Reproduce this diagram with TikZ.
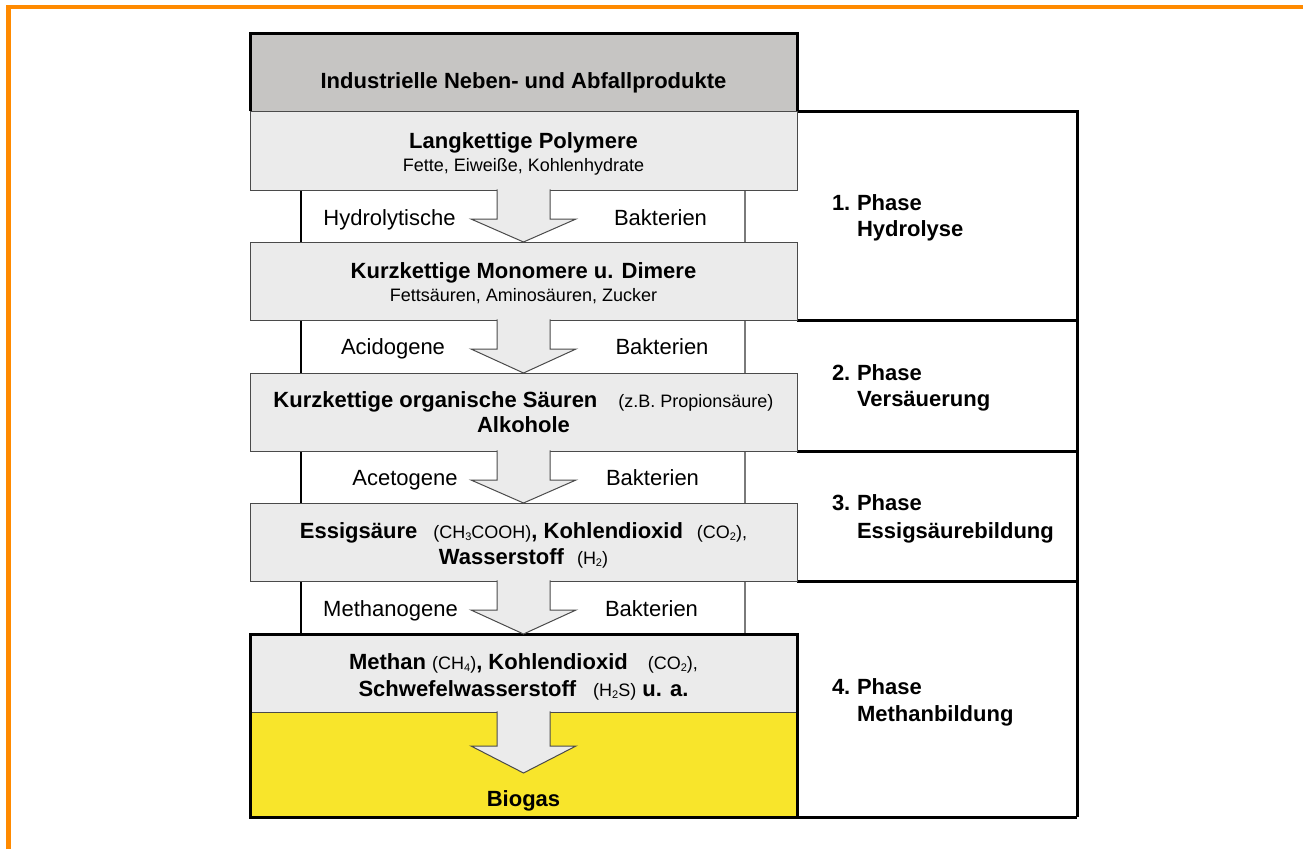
\documentclass[tikz,border=0pt]{standalone}
\usepackage{fontspec}
\setmainfont{Liberation Sans}

\definecolor{frameOrange}{HTML}{FF8A00}
\definecolor{headGray}{HTML}{C6C5C3}
\definecolor{paleGray}{HTML}{EBEBEB}
\definecolor{edgeGray}{HTML}{4A4A4A}
\definecolor{bandGray}{HTML}{7A7A7A}
\definecolor{bioYellow}{HTML}{F8E52B}

% formula text inside bold lines, and chemical subscripts
\newcommand\fml{\fontsize{18}{22}\selectfont\mdseries}
\newcommand\sbs[1]{\raisebox{-2.5pt}{\fontsize{11}{11}\selectfont #1}}
% block arrow from a box into the band below it: top, wing level, tip
\newcommand\flowarrow[3]{%
  \filldraw[blockarrow] (497,#1) -- (497,#2) -- (471,#2) -- (523.5,#3)
    -- (576,#2) -- (550,#2) -- (550,#1);}

\tikzset{
  every node/.style={inner sep=0pt, outer sep=0pt},
  panel/.style={rectangle, minimum width=547pt, anchor=north west},
  pale/.style={panel, fill=paleGray, draw=edgeGray, line width=1pt},
  frame/.style={draw=black, line width=3pt, line join=miter},
  bandleft/.style={draw=black, line width=2pt},
  bandright/.style={draw=bandGray, line width=1.2pt},
  blockarrow/.style={fill=paleGray, draw=edgeGray, line width=1pt, line join=miter},
  boldtxt/.style={anchor=base, font=\fontsize{22}{26}\selectfont\bfseries},
  plaintxt/.style={anchor=base, font=\fontsize{22}{26}\selectfont},
  subtxt/.style={anchor=base, font=\fontsize{18}{22}\selectfont},
  phasetxt/.style={anchor=base west, font=\fontsize{22}{26}\selectfont\bfseries},
}

\begin{document}
\begin{tikzpicture}[x=1pt, y=-1pt]
\useasboundingbox (0,0) rectangle (1303,849);

% orange page rule, top and left
\draw[draw=frameOrange, line width=4.6pt] (8.5,849) -- (8.5,7) -- (1303,7);

% phase column on the right
\draw[frame] (797,111) -- (1077,111) -- (1077,817);
\draw[frame] (797,320) -- (1077,320);
\draw[frame] (797,451) -- (1077,451);
\draw[frame] (797,581) -- (1077,581);
\draw[frame] (797,817) -- (1077,817);

% side walls of the bands between the boxes
\draw[bandleft] (301,190) -- (301,634);
\draw[bandright] (745,190) -- (745,634);

% process boxes
\node[panel, fill=headGray, minimum height=78pt] (head) at (250,33) {};
\node[pale, minimum height=79pt] (poly) at (250,111) {};
\node[pale, minimum height=78pt] (mono) at (250,242) {};
\node[pale, minimum height=78pt] (acids) at (250,373) {};
\node[pale, minimum height=78pt] (acetic) at (250,503) {};
\node[panel, fill=paleGray, minimum height=78pt] (gas) at (250,634) {};
\node[panel, fill=bioYellow, draw=edgeGray, line width=1pt, minimum height=105pt] (biogas) at (250,712) {};

\draw[frame] (head.south west) -- (head.north west) -- (head.north east) -- (head.south east);
\draw[frame] (gas.north west) rectangle (biogas.south east);

% block arrows
\flowarrow{189.3}{219}{242}
\flowarrow{319.3}{349}{373}
\flowarrow{450.3}{480}{503}
\flowarrow{580.3}{610}{634}
\flowarrow{711.3}{746}{773}

% box texts
\node[boldtxt] (tHead) at (523.5,88) {Industrielle Neben- und Abfallprodukte};
\node[boldtxt] (tPoly) at (523.5,148) {Langkettige Polymere};
\node[subtxt] (sPoly) at (523.5,171) {Fette, Eiweiße, Kohlenhydrate};
\node[boldtxt] (tMono) at (523.5,278) {Kurzkettige Monomere u. Dimere};
\node[subtxt] (sMono) at (523.5,301) {Fettsäuren, Aminosäuren, Zucker};
\node[boldtxt] (tAcids) at (523.5,407) {Kurzkettige organische Säuren\hspace{21pt}{\fml(z.B. Propionsäure)}};
\node[boldtxt] (tAlc) at (523.5,432) {Alkohole};
\node[boldtxt] (tAcetic) at (523.5,538) {Essigsäure\hspace{16pt}{\fml(CH\sbs{3}COOH)}, Kohlendioxid\hspace{14pt}{\fml(CO\sbs{2}),}};
\node[boldtxt] (tHyd) at (523.5,564) {Wasserstoff\hspace{13pt}{\fml(H\sbs{2})}};
\node[boldtxt] (tGas) at (523.5,669) {Methan {\fml(CH\sbs{4})}, Kohlendioxid\hspace{20pt}{\fml(CO\sbs{2}),}};
\node[boldtxt] (tSulf) at (523.5,696) {Schwefelwasserstoff\hspace{17pt}{\fml(H\sbs{2}S)} u. a.};
\node[boldtxt] (tBio) at (523.5,806) {Biogas};

% band labels
\node[plaintxt] (b1l) at (389.5,225) {Hydrolytische};
\node[plaintxt] (b1r) at (660.5,225) {Bakterien};
\node[plaintxt] (b2l) at (393,354) {Acidogene};
\node[plaintxt] (b2r) at (662,354) {Bakterien};
\node[plaintxt] (b3l) at (405,485) {Acetogene};
\node[plaintxt] (b3r) at (652.5,485) {Bakterien};
\node[plaintxt] (b4l) at (390.5,616) {Methanogene};
\node[plaintxt] (b4r) at (651.5,616) {Bakterien};

% phase labels
\node[phasetxt] (p1) at (832,210) {1.};
\node[phasetxt] (p1a) at (857,210) {Phase};
\node[phasetxt] (p1b) at (857,236) {Hydrolyse};
\node[phasetxt] (p2) at (832,380) {2.};
\node[phasetxt] (p2a) at (857,380) {Phase};
\node[phasetxt] (p2b) at (857,406) {Versäuerung};
\node[phasetxt] (p3) at (832,510) {3.};
\node[phasetxt] (p3a) at (857,510) {Phase};
\node[phasetxt] (p3b) at (857,538) {Essigsäurebildung};
\node[phasetxt] (p4) at (832,694) {4.};
\node[phasetxt] (p4a) at (857,694) {Phase};
\node[phasetxt] (p4b) at (857,721) {Methanbildung};
\end{tikzpicture}
\end{document}
